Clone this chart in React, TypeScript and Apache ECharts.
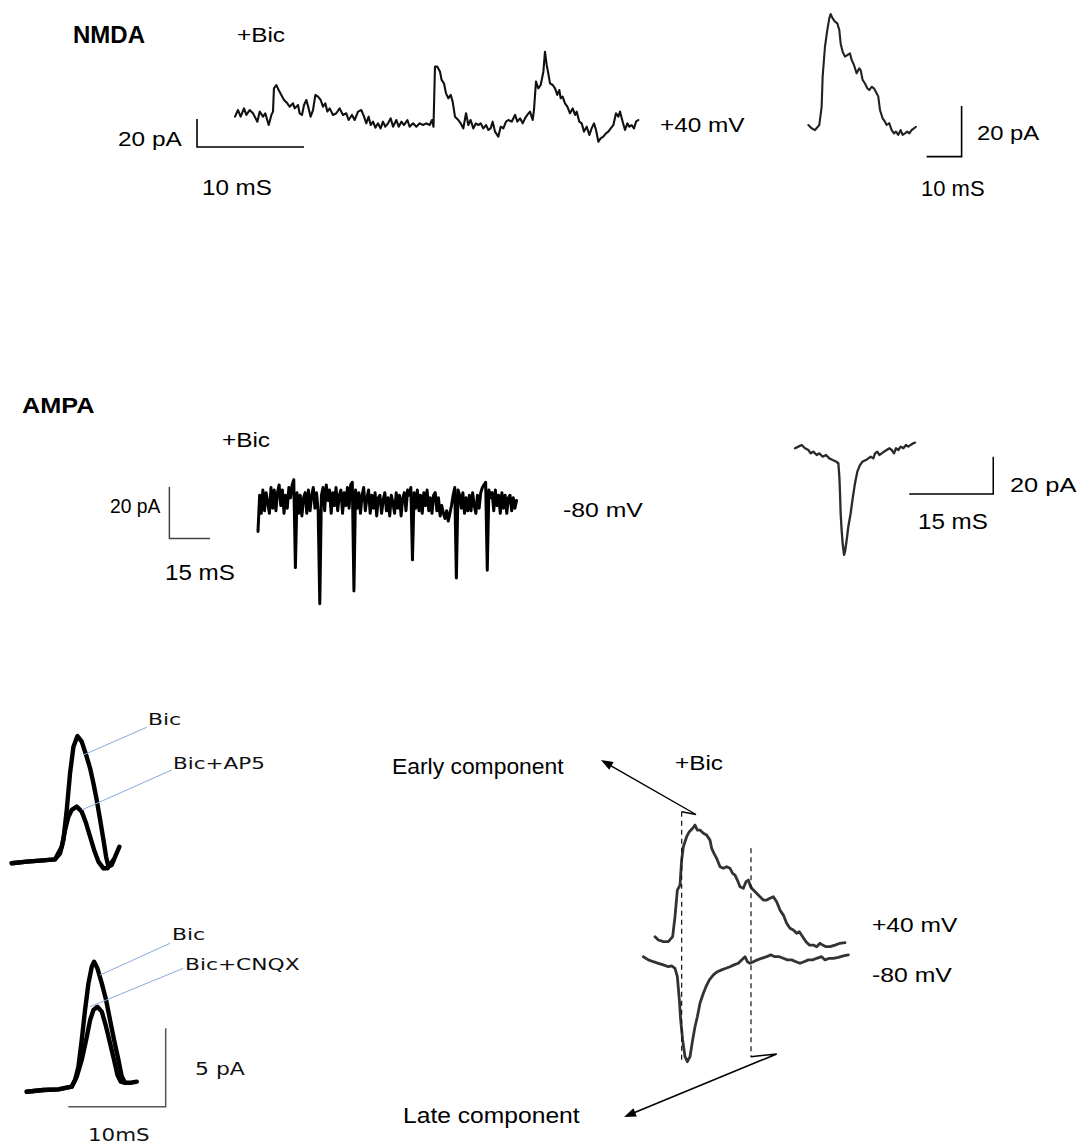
import React, { useEffect, useRef } from "react";
import * as echarts from "echarts";

type Pt = [number, number];

// ================= DATA =================
// NMDA sEPSCs recorded at +40 mV in bicuculline: [time ms, current pA]
const nmdaTrace: Pt[] = [
  [0, 2.4], [0.28, 7.1], [0.53, 2.4], [0.84, 8.3], [1.06, 3.6], [1.37, 7.1], [1.68, 4.8], [2.09, -1.2], [2.31, 6], [2.62, 2.4],
  [2.83, 4.8], [3.15, -3.6], [3.4, 3.6], [3.55, 6], [3.64, 22.6], [3.86, 25], [4.08, 21.4], [4.33, 17.9], [4.58, 14.3], [4.89, 11.9],
  [5.11, 9.5], [5.42, 11.9], [5.58, 8.3], [5.89, 10.7], [6.04, 4.8], [6.26, 3.6], [6.45, 10.7], [6.67, 14.3], [6.88, 8.3], [7.07, 2.4],
  [7.29, 7.1], [7.51, 17.9], [7.76, 16.7], [8.01, 14.3], [8.22, 9.5], [8.44, 11.9], [8.63, 6], [8.85, 8.3], [9.16, 3.6], [9.47, 4.8],
  [9.78, 8.3], [10.09, 3.6], [10.4, 4.8], [10.62, 0], [10.93, 3.6], [11.18, 0], [11.5, 6], [11.81, 7.1], [12.06, 2.4], [12.27, -2.4],
  [12.49, 2.4], [12.68, -3.6], [12.9, -1.2], [13.12, -5.5], [13.36, -2.4], [13.61, -6], [13.83, -1.2], [14.05, -4.8], [14.3, -2.4], [14.55, 1.2],
  [14.77, -4.8], [15.08, 0], [15.3, -4.8], [15.55, -1.2], [15.79, -3.6], [16.11, 0], [16.32, -4.8], [16.64, -2.4], [16.95, -4.8], [17.26, -2.4],
  [17.57, -3.6], [17.88, -2.4], [18.19, -3.6], [18.41, 0], [18.55, -4.8], [18.69, 38.1], [18.91, 38.1], [19.16, 34.5], [19.31, 28.6], [19.53, 26.2],
  [19.72, 19], [19.94, 15.5], [20.16, 17.9], [20.34, 13.1], [20.56, 2.4], [20.87, 0], [21.09, -2.4], [21.34, -6], [21.59, 4.8], [21.81, -3.6],
  [22.02, 0], [22.27, -6], [22.52, -2.4], [22.74, -3.6], [22.96, -2.4], [23.21, -6], [23.46, -3.6], [23.68, -7.1], [23.89, -6], [24.08, -1.2],
  [24.3, -8.3], [24.61, -11.9], [24.83, -4.8], [25.08, -6], [25.33, -1.2], [25.55, 0], [25.86, -1.2], [26.17, 3.6], [26.39, -1.2], [26.64, 1.2],
  [26.89, -2.4], [27.1, 1.2], [27.32, 3.6], [27.57, 6], [27.82, 0], [27.94, 7.1], [28.13, 27.4], [28.35, 22.6], [28.57, 25], [28.82, 34.5],
  [28.97, 48.8], [29.13, 39.3], [29.28, 33.3], [29.44, 26.2], [29.69, 25], [29.91, 22.6], [30.12, 17.9], [30.31, 21.4], [30.44, 15.5], [30.62, 16.7],
  [30.84, 11.9], [31.06, 9.5], [31.31, 4.8], [31.56, 8.3], [31.78, 3.6], [31.93, 6], [32.18, -1.2], [32.4, -2.4], [32.62, -8.3], [32.87, -4.8],
  [33.12, -10.7], [33.33, -6], [33.55, -2.4], [33.74, -7.1], [33.96, -15.5], [34.17, -13.1], [34.42, -11.9], [34.67, -9.5], [34.89, -8.3], [35.11, -6],
  [35.36, -3.6], [35.61, 4.8], [35.83, 2.4], [35.98, 6], [36.23, -1.2], [36.45, -7.1], [36.67, -2.4], [36.85, -4.8], [37.07, -3.6], [37.29, -6],
  [37.48, -1.2], [37.69, 0],
];

// averaged NMDA event (+40 mV)
const nmdaInset: Pt[] = [
  [0, 0], [0.95, -1.3], [1.9, -2], [3.14, 0], [3.81, 7.2], [4.1, 19.1], [4.76, 30.9], [5.43, 37.5], [6, 42.1], [6.38, 43.8],
  [6.95, 42.1], [7.62, 40.8], [8.29, 40.1], [8.86, 37.5], [9.24, 32.2], [9.81, 28.9], [10.48, 27], [11.14, 27.6], [11.9, 28.3], [12.38, 25.7],
  [13.05, 23.7], [13.81, 20.4], [14.57, 22.4], [14.95, 21.7], [15.52, 17.8], [16.19, 16.4], [16.86, 14.5], [17.43, 13.8], [18.1, 15.1], [18.76, 14.5],
  [19.52, 12.5], [20, 11.2], [20.48, 5.9], [21.24, 2.6], [21.9, 1.3], [22.38, 0], [23.14, 0.7], [23.81, -2], [24.48, -3.3], [25.05, -2.6],
  [25.71, -3.9], [26.38, -2], [26.95, -3.9], [27.62, -3.3], [28.29, -2.6], [28.86, -3.3], [29.52, -2], [30.19, -1.3], [30.76, -0.7],
];

// AMPA sEPSCs at -80 mV: sampled current (pA), one sample every ampaDt ms
const ampaDt = 0.6;
const ampaCurrent: number[] = [
  -11, 3, -4, 5, -3, 4, 0, -4, 6, -2,
  5, -3, 4, 7, -1, 5, -4, 3, -2, 6,
  2, 7, 9, -25, 4, -4, 3, -5, 2, 4,
  -4, 5, -3, 3, 6, -2, 4, -3, -39, 3,
  6, -3, 7, 1, 5, -4, 4, -1, 6, -3,
  3, 5, -4, 4, -1, 6, -2, 7, 8, -34,
  5, -2, 4, -4, 3, 6, -3, 2, 5, -4,
  3, -2, 4, -5, 2, 3, -4, 1, 4, -3,
  2, -5, 3, 0, -4, 4, -2, 3, -5, 2,
  4, -3, 5, 3, 6, -22, 4, -2, 5, -3,
  3, -4, 4, -1, 5, -3, 2, -4, 3, 4,
  -3, 2, -5, -1, -4, -6, -3, -7, -4, -1,
  3, 6, -29, 5, 3, -2, 4, -4, 2, -3,
  3, -3, 4, -1, -4, 3, -2, 4, 6, 7,
  8, -26, 5, 2, 4, -3, 5, -1, 3, -4,
  4, -2, 3, -4, 2, 3, -3, 2, -2, 1,
];

// averaged AMPA event (-80 mV)
const ampaInset: Pt[] = [
  [0, 0], [0.6, 0.9], [1.19, 1.8], [1.79, 0], [2.38, -0.9], [2.8, -2.7], [3.27, -1.8], [3.87, -3.6], [4.35, -2.7], [4.94, -4.5],
  [5.54, -3.6], [6.13, -5.4], [6.73, -6.3], [7.32, -7.1], [7.74, -8], [7.92, -15.2], [8.04, -24.1], [8.15, -34.8], [8.33, -43.8], [8.51, -50.9],
  [8.75, -57.1], [8.93, -55.4], [9.23, -49.1], [9.52, -42], [9.94, -34.8], [10.3, -26.8], [10.71, -18.8], [11.13, -12.5], [11.61, -8.9], [12.08, -7.1],
  [12.68, -6.3], [13.1, -5.4], [13.51, -4.5], [13.99, -5.4], [14.29, -2.7], [14.7, -1.8], [15.06, -3.6], [15.48, -2.7], [15.89, -1.8], [16.37, -0.9],
  [16.85, 0], [17.26, -0.9], [17.68, -2.7], [18.04, 0], [18.45, -0.9], [18.87, 0.9], [19.35, 0], [19.82, 1.8], [20.24, 0.9], [20.65, 1.8],
  [21.13, 2.7], [21.43, 3],
];

// evoked responses: Bic vs Bic+AP5
const ap5Bic: Pt[] = [
  [0, 0], [1.54, 0.11], [2.91, 0.17], [4.45, 0.25], [4.97, 0.64], [5.31, 1.49], [5.65, 3.4], [5.99, 5.73], [6.34, 7.43], [6.75, 8.11],
  [7.19, 7.75], [7.64, 6.9], [8.05, 6.05], [8.39, 5.1], [8.73, 4.03], [9.08, 2.76], [9.42, 1.49], [9.69, 0.42], [9.93, -0.21], [10.27, -0.11],
  [10.62, 0.42], [11.06, 1.06],
];
const ap5Drug: Pt[] = [
  [0, 0], [1.54, 0.11], [2.91, 0.17], [4.45, 0.25], [5.14, 1.06], [5.48, 2.12], [5.82, 2.97], [6.16, 3.4], [6.68, 3.61], [7.19, 3.29],
  [7.64, 2.55], [8.05, 1.7], [8.46, 0.85], [8.9, 0.11], [9.42, -0.32], [9.83, -0.32], [10.17, 0], [10.45, 0.21],
];

// evoked responses: Bic vs Bic+CNQX
const cnqxBic: Pt[] = [
  [0, 0], [1.71, 0.11], [3.25, 0.15], [4.62, 0.32], [4.97, 0.74], [5.31, 1.59], [5.65, 3.29], [5.99, 5.2], [6.34, 6.9], [6.68, 7.96],
  [6.92, 8.28], [7.26, 7.86], [7.71, 6.9], [8.15, 5.84], [8.56, 4.56], [8.97, 3.29], [9.42, 2.02], [9.76, 0.96], [10.1, 0.57], [10.68, 0.57],
  [11.3, 0.64],
];
const cnqxDrug: Pt[] = [
  [0, 0], [1.71, 0.11], [3.25, 0.15], [4.62, 0.32], [5.14, 0.96], [5.65, 2.02], [6.1, 3.29], [6.51, 4.56], [6.85, 5.2], [7.26, 5.41],
  [7.71, 5.1], [8.15, 4.14], [8.56, 3.08], [8.97, 2.02], [9.32, 1.06], [9.66, 0.64], [10.1, 0.57],
];

// evoked EPSC at +40 mV and -80 mV (+Bic)
const evoked40: Pt[] = [
  [0, 0], [0.67, -1.67], [1.67, -2.5], [2.67, -2.5], [3.53, 0], [4, 10], [4.47, 23.3], [5, 25.8], [5.33, 38.3], [5.67, 45],
  [6.33, 50], [6.87, 52.5], [7.53, 54.2], [8, 55.8], [8.47, 53.3], [9, 53.3], [9.67, 51.7], [10.33, 50.8], [11, 48.3], [11.33, 44.2],
  [11.8, 41.7], [12.33, 39.2], [13, 35], [13.67, 34.2], [14.33, 35], [15, 34.2], [15.53, 31.7], [16, 30.8], [16.47, 28.3], [17, 25],
  [17.67, 24.2], [18.2, 27.5], [18.67, 28.3], [19.13, 25], [19.67, 23.3], [20.33, 21.7], [21, 20], [21.67, 18.3], [22.33, 18.3], [23, 19.2],
  [23.67, 20], [24.33, 17.5], [25, 13.3], [25.67, 10.8], [26.33, 6.7], [27, 4.2], [27.67, 3.3], [28.33, 1.7], [28.87, 2.5], [29.53, 0],
  [30.2, -2.5], [30.87, -4.2], [31.67, -4.2], [32.33, -5], [33, -3.3], [33.53, -4.2], [34.2, -5], [35, -5], [36, -4.2], [37, -3.3],
  [38, -3],
];
const evoked80: Pt[] = [
  [-2.33, 3.3], [-1.33, 1.7], [-0.33, 0.8], [0.67, 0], [1.67, -0.8], [2.67, -1.7], [3.33, -1.3], [4, -2.5], [4.47, -6.7], [4.87, -18.3],
  [5.13, -28.3], [5.53, -38.3], [6, -46.7], [6.47, -49.2], [7, -46.7], [7.53, -38.3], [8, -31.7], [8.47, -26.7], [9, -20], [9.67, -15],
  [10.2, -11.7], [10.87, -8.3], [11.67, -5.8], [12.47, -4.2], [13.33, -3.3], [14.2, -2.5], [15, -1.7], [15.8, -0.8], [16.67, 0], [17.33, 1.7],
  [18, 3.3], [18.47, 0.8], [19, 0], [19.67, 0.8], [20.47, 1.7], [21.33, 2.5], [22.33, 3.3], [23.13, 4.2], [24, 3.3], [24.87, 3.3],
  [25.67, 2.5], [26.47, 1.7], [27.33, 1.7], [28.2, 0.8], [29, 0], [29.8, 0.8], [30.67, 1.7], [31.53, 1.7], [32.33, 2.5], [33.33, 3.3],
  [34, 1.7], [34.87, 2.5], [35.67, 2.5], [36.67, 3], [37.67, 3.7], [38.67, 4.2],
];

// early / late component times (ms)
const componentTimes: number[] = [5.33, 19.2];

// scale bars: [ms, pA]
const nmdaBar: Pt = [10, 20];
const nmdaInsetBar: Pt = [10, 20];
const ampaBar: Pt = [15, 20];
const ampaInsetBar: Pt = [15, 20];
const pharmBar: Pt = [10, 5];

// ================= LAYOUT =================
type Panel = { ox: number; oy: number; sx: number; sy: number; xr: Pt; yr: Pt };
const P: Record<string, Panel> = {
  nmda: { ox: 235, oy: 120, sx: 10.7, sy: 1.4, xr: [-4, 40], yr: [-25, 55] },
  nmdaIn: { ox: 808.3, oy: 125, sx: 3.5, sy: 2.533, xr: [-3, 46], yr: [-15, 48] },
  ampa: { ox: 258, oy: 503, sx: 2.71, sy: 2.585, xr: [-36, 100], yr: [-42, 12] },
  ampaIn: { ox: 795, oy: 448.3, sx: 5.6, sy: 1.867, xr: [-2, 38], yr: [-60, 6] },
  ap5: { ox: 11.7, oy: 863.3, sx: 9.74, sy: 15.7, xr: [-1, 12], yr: [-1, 9] },
  cnqx: { ox: 26.7, oy: 1091.7, sx: 9.74, sy: 15.7, xr: [-1, 15], yr: [-1.5, 9] },
  pos: { ox: 655, oy: 936.7, sx: 5, sy: 2, xr: [-4, 40], yr: [-65, 65] },
  neg: { ox: 655, oy: 963.3, sx: 5, sy: 2, xr: [-4, 40], yr: [-55, 10] },
};
const panelOrder = ["nmda", "nmdaIn", "ampa", "ampaIn", "ap5", "cnqx", "pos", "neg"];
const gi = (name: string) => panelOrder.indexOf(name);

const SANS = '"Liberation Sans", Arial, sans-serif';
const DEJA = '"DejaVu Sans", sans-serif';

function buildOption() {
  const grid = panelOrder.map((n) => {
    const p = P[n];
    return {
      left: p.ox + p.xr[0] * p.sx,
      top: p.oy - p.yr[1] * p.sy,
      width: (p.xr[1] - p.xr[0]) * p.sx,
      height: (p.yr[1] - p.yr[0]) * p.sy,
      show: false,
      containLabel: false,
      outerBoundsMode: "none",
    };
  });
  const xAxis = panelOrder.map((n, i) => ({ type: "value", gridIndex: i, min: P[n].xr[0], max: P[n].xr[1], show: false }));
  const yAxis = panelOrder.map((n, i) => ({ type: "value", gridIndex: i, min: P[n].yr[0], max: P[n].yr[1], show: false }));

  const line = (panel: string, data: any[], color: string, width: number, extra: any = {}) => ({
    type: "line",
    xAxisIndex: gi(panel),
    yAxisIndex: gi(panel),
    data,
    showSymbol: false,
    symbol: "none",
    clip: false,
    silent: true,
    lineStyle: { color, width, join: "round", cap: "round", ...(extra.lineStyle || {}) },
    z: extra.z ?? 2,
  });

  // L-shaped bar (vertical on left, horizontal at bottom going right)
  const barLeft = (c: Pt, b: Pt): Pt[] => [[c[0], c[1] + b[1]], [c[0], c[1]], [c[0] + b[0], c[1]]];
  // reversed L (horizontal at bottom from the left, vertical on right)
  const barRight = (c: Pt, b: Pt): Pt[] => [[c[0] - b[0], c[1]], [c[0], c[1]], [c[0], c[1] + b[1]]];

  const ampaData = ampaCurrent.map((v, i) => [i * ampaDt, v]);

  const series: any[] = [
    line("nmda", nmdaTrace, "#111", 2.1),
    line("nmda", barLeft([-3.55, -19.3], nmdaBar), "#000", 1.6, { lineStyle: { join: "miter", cap: "butt" } }),
    line("nmdaIn", nmdaInset, "#222", 2.1),
    line("nmdaIn", barRight([43.8, -12.5], nmdaInsetBar), "#000", 1.6, { lineStyle: { join: "miter", cap: "butt" } }),
    line("ampa", ampaData, "#000", 3),
    line("ampa", barLeft([-32.7, -13.7], ampaBar), "#444", 1.5, { lineStyle: { join: "miter", cap: "butt" } }),
    line("ampaIn", ampaInset, "#2a2a2a", 2.3),
    line("ampaIn", barRight([35.4, -24.5], ampaInsetBar), "#000", 1.5, { lineStyle: { join: "miter", cap: "butt" } }),
    line("ap5", ap5Bic, "#000", 4.4),
    line("ap5", ap5Drug, "#000", 4.4),
    line("cnqx", cnqxBic, "#000", 4.4),
    line("cnqx", cnqxDrug, "#000", 4.4),
    line("cnqx", barRight([14.27, -0.96], pharmBar), "#555", 1.5, { lineStyle: { join: "miter", cap: "butt" } }),
    line("pos", evoked40, "#333", 2.8),
    line("neg", evoked80, "#333", 2.8),
    line("pos", [[componentTimes[0], 62.5], [componentTimes[0], -63.2]], "#111", 1.2, {
      lineStyle: { type: [5, 4], cap: "butt" },
      z: 3,
    }),
    line("pos", [[componentTimes[1], 44.2], [componentTimes[1], -60]], "#111", 1.2, {
      lineStyle: { type: [5, 4], cap: "butt" },
      z: 3,
    }),
  ];

  const T = (text: string, x: number, y: number, size: number, o: any = {}) => ({
    type: "text",
    x,
    y,
    scaleX: o.sx ?? 1,
    silent: true,
    z: 10,
    style: {
      text,
      fill: o.color ?? "#000",
      fontSize: size,
      fontFamily: o.family ?? SANS,
      fontWeight: o.bold ? "bold" : "normal",
      align: "left",
      verticalAlign: "middle",
      textAlign: "left",
      textVerticalAlign: "middle",
    },
  });
  const Ln = (x1: number, y1: number, x2: number, y2: number, stroke: string, w: number) => ({
    type: "line",
    silent: true,
    z: 5,
    shape: { x1, y1, x2, y2 },
    style: { stroke, lineWidth: w },
  });
  const arrowHead = (fx: number, fy: number, tx: number, ty: number, len = 12, half = 4.5) => {
    const dx = tx - fx, dy = ty - fy, d = Math.hypot(dx, dy);
    const ux = dx / d, uy = dy / d;
    const bx = tx - ux * len, by = ty - uy * len;
    return {
      type: "polygon",
      silent: true,
      z: 6,
      shape: { points: [[tx, ty], [bx - uy * half, by + ux * half], [bx + uy * half, by - ux * half]] },
      style: { fill: "#000" },
    };
  };
  const Poly = (points: number[][], w: number) => ({
    type: "polyline",
    silent: true,
    z: 5,
    shape: { points },
    style: { stroke: "#000", lineWidth: w, fill: null, lineJoin: "miter" },
  });

  const blue = "#8aaad6";
  const graphic: any[] = [
    // NMDA row
    T("NMDA", 73, 34.5, 24, { bold: true }),
    T("+Bic", 237, 35, 21, { sx: 1.16 }),
    T("20 pA", 118, 139.5, 20, { sx: 1.22 }),
    T("10 mS", 202, 187, 22, { sx: 1.1 }),
    T("+40 mV", 660, 125, 21, { sx: 1.16 }),
    T("20 pA", 977, 133, 20, { sx: 1.19 }),
    T("10 mS", 921, 188, 22, { sx: 1.0 }),
    // AMPA row
    T("AMPA", 22, 406, 22, { bold: true, sx: 1.15 }),
    T("+Bic", 222, 440, 21, { sx: 1.16 }),
    T("20 pA", 110, 506, 21, { sx: 0.92 }),
    T("15 mS", 165, 572, 22, { sx: 1.1 }),
    T("-80 mV", 563, 510, 21, { sx: 1.18 }),
    T("20 pA", 1010, 485, 21, { sx: 1.21 }),
    T("15 mS", 918, 521, 22, { sx: 1.1 }),
    // pharmacology
    Ln(83.3, 755, 146.7, 727.3, blue, 1),
    Ln(81.7, 810, 171.7, 770, blue, 1),
    T("Bic", 148, 720, 16, { family: DEJA, sx: 1.37, color: "#111" }),
    T("Bic+AP5", 173, 763.5, 16, { family: DEJA, sx: 1.345, color: "#111" }),
    Ln(100, 975, 170, 943.3, blue, 1),
    Ln(90, 1006.7, 183.3, 968.3, blue, 1),
    T("Bic", 172, 935, 16, { family: DEJA, sx: 1.37, color: "#111" }),
    T("Bic+CNQX", 185, 965, 16, { family: DEJA, sx: 1.36, color: "#111" }),
    T("5 pA", 195, 1069, 18, { family: DEJA, sx: 1.22, color: "#111" }),
    T("10mS", 88, 1135, 18, { family: DEJA, sx: 1.19, color: "#111" }),
    // components
    T("Early component", 392, 767, 22, { sx: 1.04 }),
    T("+Bic", 675, 763, 21, { sx: 1.16 }),
    T("+40 mV", 872, 925, 21, { sx: 1.17 }),
    T("-80 mV", 872, 975, 21, { sx: 1.18 }),
    T("Late component", 403, 1115.5, 22, { sx: 1.12 }),
    Poly([[681.7, 811.7], [696, 814.5], [604, 761.8]], 1.4),
    arrowHead(696, 814.5, 601, 760),
    Poly([[750.7, 1056.7], [776.7, 1054], [628, 1115.3]], 1.6),
    arrowHead(776.7, 1054, 624, 1117),
  ];

  return {
    animation: false,
    backgroundColor: "#ffffff",
    grid,
    xAxis,
    yAxis,
    series,
    graphic: { elements: graphic },
  };
}

export default function App() {
  const ref = useRef<HTMLDivElement>(null);
  useEffect(() => {
    if (!ref.current) return;
    const chart = echarts.init(ref.current, null, { renderer: "svg" });
    chart.setOption(buildOption() as any);
    return () => chart.dispose();
  }, []);
  return (
    <div
      ref={ref}
      style={{ position: "absolute", left: 0, top: 0, width: 1080, height: 1144, background: "#fff" }}
    />
  );
}
